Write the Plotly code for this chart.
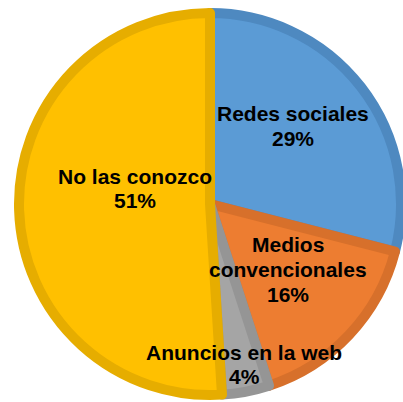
import plotly.graph_objects as go

# Survey shares
categories = ["Redes sociales", "Medios convencionales", "Anuncios en la web", "No las conozco"]
values = [29, 16, 4, 51]
# How each category name is broken into lines inside its slice
label_lines = [["Redes sociales"], ["Medios", "convencionales"], ["Anuncios en la web"], ["No las conozco"]]

fill_colors = ["#5B9BD5", "#ED7D31", "#A5A5A5", "#FFC000"]
edge_colors = ["#4E89C0", "#D7702B", "#959595", "#E6AD00"]

W, H = 403, 402
cx, cy, r = 210, 204, 191  # pie centre and fill radius in pixels

fig = go.Figure(
    go.Pie(
        labels=categories,
        values=values,
        sort=False,
        direction="clockwise",
        rotation=0,
        textinfo="none",
        hoverinfo="label+percent",
        marker=dict(colors=fill_colors, line=dict(color=edge_colors, width=10)),
        domain=dict(x=[(cx - r) / W, (cx + r) / W], y=[(H - cy - r) / H, (H - cy + r) / H]),
        showlegend=False,
    )
)

# Label anchor (centre x, first line y) for each slice, in pixels
label_pos = [(293, 114), (288, 245), (244, 352), (134.5, 176)]
line_gap = 24.5

for lines, v, (lx, ly) in zip(label_lines, values, label_pos):
    for i, t in enumerate(lines + [f"{v}%"]):
        fig.add_annotation(
            x=lx / W, y=1 - (ly + i * line_gap) / H,
            xref="paper", yref="paper",
            text=f"<b>{t}</b>", showarrow=False,
            xanchor="center", yanchor="middle",
            font=dict(family="Liberation Sans, Arial, sans-serif", size=21, color="#000000"),
        )

fig.update_layout(
    width=W, height=H,
    margin=dict(l=0, r=0, t=0, b=0),
    paper_bgcolor="#FFFFFF",
    plot_bgcolor="#FFFFFF",
)

fig.write_html("out.html")
